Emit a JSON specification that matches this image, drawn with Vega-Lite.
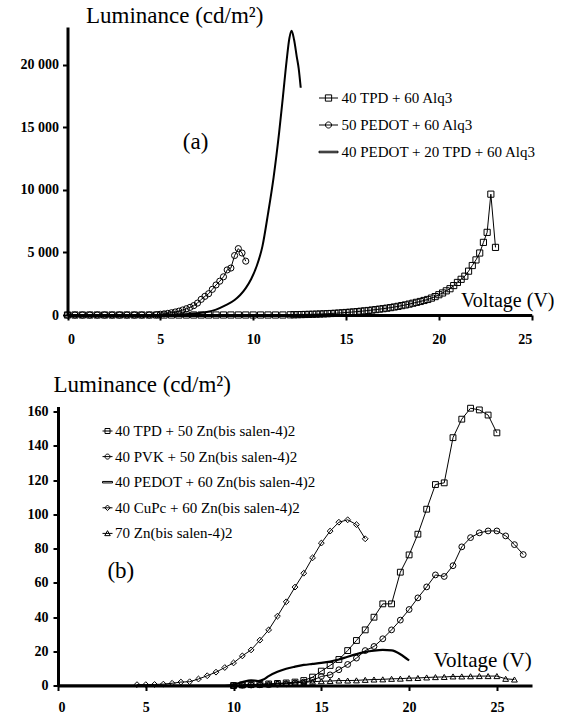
{
  "$schema": "https://vega.github.io/schema/vega-lite/v6.json",
  "padding": {"top": 4, "left": 0, "right": 0, "bottom": 0},
  "background": "white",
  "spacing": 27.5,
  "columns": 1,
  "align": "all",
  "center": false,
  "bounds": "full",
  "config": {
    "view": {"stroke": null},
    "axis": {
      "grid": false,
      "domainColor": "black",
      "domainWidth": 3,
      "tickColor": "black",
      "tickWidth": 2,
      "tickSize": 5,
      "labelFont": "Liberation Serif",
      "labelFontWeight": "bold",
      "labelFontSize": 14,
      "labelColor": "black",
      "labelOverlap": false,
      "titleFont": "Liberation Serif",
      "titleFontWeight": "normal",
      "titleColor": "black",
      "titleAngle": 0,
      "titleAlign": "left",
      "titleBaseline": "alphabetic"
    }
  },
  "datasets": {
    "a_pts": [
      {"series": "40 TPD + 60 Alq3", "V": 0, "L": 0},
      {"series": "40 TPD + 60 Alq3", "V": 0.4, "L": 0},
      {"series": "40 TPD + 60 Alq3", "V": 0.8, "L": 0},
      {"series": "40 TPD + 60 Alq3", "V": 1.2, "L": 0},
      {"series": "40 TPD + 60 Alq3", "V": 1.6, "L": 0},
      {"series": "40 TPD + 60 Alq3", "V": 2.0, "L": 0},
      {"series": "40 TPD + 60 Alq3", "V": 2.4, "L": 0},
      {"series": "40 TPD + 60 Alq3", "V": 2.8, "L": 0},
      {"series": "40 TPD + 60 Alq3", "V": 3.2, "L": 0},
      {"series": "40 TPD + 60 Alq3", "V": 3.6, "L": 0},
      {"series": "40 TPD + 60 Alq3", "V": 4.0, "L": 0},
      {"series": "40 TPD + 60 Alq3", "V": 4.4, "L": 0},
      {"series": "40 TPD + 60 Alq3", "V": 4.8, "L": 0},
      {"series": "40 TPD + 60 Alq3", "V": 5.2, "L": 0},
      {"series": "40 TPD + 60 Alq3", "V": 5.6, "L": 0},
      {"series": "40 TPD + 60 Alq3", "V": 6.0, "L": 0},
      {"series": "40 TPD + 60 Alq3", "V": 6.4, "L": 0},
      {"series": "40 TPD + 60 Alq3", "V": 6.8, "L": 0},
      {"series": "40 TPD + 60 Alq3", "V": 7.2, "L": 0},
      {"series": "40 TPD + 60 Alq3", "V": 7.6, "L": 0},
      {"series": "40 TPD + 60 Alq3", "V": 8.0, "L": 0},
      {"series": "40 TPD + 60 Alq3", "V": 8.4, "L": 0},
      {"series": "40 TPD + 60 Alq3", "V": 8.8, "L": 0},
      {"series": "40 TPD + 60 Alq3", "V": 9.2, "L": 0},
      {"series": "40 TPD + 60 Alq3", "V": 9.6, "L": 0},
      {"series": "40 TPD + 60 Alq3", "V": 10.0, "L": 0},
      {"series": "40 TPD + 60 Alq3", "V": 10.4, "L": 0},
      {"series": "40 TPD + 60 Alq3", "V": 10.8, "L": 0},
      {"series": "40 TPD + 60 Alq3", "V": 11.2, "L": 0},
      {"series": "40 TPD + 60 Alq3", "V": 11.6, "L": 0},
      {"series": "40 TPD + 60 Alq3", "V": 12.0, "L": 15},
      {"series": "40 TPD + 60 Alq3", "V": 12.2, "L": 20},
      {"series": "40 TPD + 60 Alq3", "V": 12.4, "L": 28},
      {"series": "40 TPD + 60 Alq3", "V": 12.6, "L": 35},
      {"series": "40 TPD + 60 Alq3", "V": 12.8, "L": 42},
      {"series": "40 TPD + 60 Alq3", "V": 13.0, "L": 50},
      {"series": "40 TPD + 60 Alq3", "V": 13.2, "L": 58},
      {"series": "40 TPD + 60 Alq3", "V": 13.4, "L": 68},
      {"series": "40 TPD + 60 Alq3", "V": 13.6, "L": 80},
      {"series": "40 TPD + 60 Alq3", "V": 13.8, "L": 92},
      {"series": "40 TPD + 60 Alq3", "V": 14.0, "L": 105},
      {"series": "40 TPD + 60 Alq3", "V": 14.2, "L": 120},
      {"series": "40 TPD + 60 Alq3", "V": 14.4, "L": 135},
      {"series": "40 TPD + 60 Alq3", "V": 14.6, "L": 155},
      {"series": "40 TPD + 60 Alq3", "V": 14.8, "L": 175},
      {"series": "40 TPD + 60 Alq3", "V": 15.0, "L": 200},
      {"series": "40 TPD + 60 Alq3", "V": 15.2, "L": 220},
      {"series": "40 TPD + 60 Alq3", "V": 15.4, "L": 245},
      {"series": "40 TPD + 60 Alq3", "V": 15.6, "L": 270},
      {"series": "40 TPD + 60 Alq3", "V": 15.8, "L": 300},
      {"series": "40 TPD + 60 Alq3", "V": 16.0, "L": 330},
      {"series": "40 TPD + 60 Alq3", "V": 16.2, "L": 360},
      {"series": "40 TPD + 60 Alq3", "V": 16.4, "L": 395},
      {"series": "40 TPD + 60 Alq3", "V": 16.6, "L": 430},
      {"series": "40 TPD + 60 Alq3", "V": 16.8, "L": 470},
      {"series": "40 TPD + 60 Alq3", "V": 17.0, "L": 505},
      {"series": "40 TPD + 60 Alq3", "V": 17.2, "L": 545},
      {"series": "40 TPD + 60 Alq3", "V": 17.4, "L": 590},
      {"series": "40 TPD + 60 Alq3", "V": 17.6, "L": 640},
      {"series": "40 TPD + 60 Alq3", "V": 17.8, "L": 690},
      {"series": "40 TPD + 60 Alq3", "V": 18.0, "L": 750},
      {"series": "40 TPD + 60 Alq3", "V": 18.2, "L": 805},
      {"series": "40 TPD + 60 Alq3", "V": 18.4, "L": 870},
      {"series": "40 TPD + 60 Alq3", "V": 18.6, "L": 940},
      {"series": "40 TPD + 60 Alq3", "V": 18.8, "L": 1010},
      {"series": "40 TPD + 60 Alq3", "V": 19.0, "L": 1080},
      {"series": "40 TPD + 60 Alq3", "V": 19.2, "L": 1160},
      {"series": "40 TPD + 60 Alq3", "V": 19.4, "L": 1240},
      {"series": "40 TPD + 60 Alq3", "V": 19.6, "L": 1350},
      {"series": "40 TPD + 60 Alq3", "V": 19.8, "L": 1470},
      {"series": "40 TPD + 60 Alq3", "V": 20.0, "L": 1620},
      {"series": "40 TPD + 60 Alq3", "V": 20.2, "L": 1760},
      {"series": "40 TPD + 60 Alq3", "V": 20.4, "L": 1930},
      {"series": "40 TPD + 60 Alq3", "V": 20.6, "L": 2100},
      {"series": "40 TPD + 60 Alq3", "V": 20.8, "L": 2350},
      {"series": "40 TPD + 60 Alq3", "V": 21.0, "L": 2600},
      {"series": "40 TPD + 60 Alq3", "V": 21.2, "L": 2850},
      {"series": "40 TPD + 60 Alq3", "V": 21.4, "L": 3100},
      {"series": "40 TPD + 60 Alq3", "V": 21.6, "L": 3500},
      {"series": "40 TPD + 60 Alq3", "V": 21.8, "L": 3950},
      {"series": "40 TPD + 60 Alq3", "V": 22.0, "L": 4400},
      {"series": "40 TPD + 60 Alq3", "V": 22.2, "L": 4950},
      {"series": "40 TPD + 60 Alq3", "V": 22.4, "L": 5800},
      {"series": "40 TPD + 60 Alq3", "V": 22.6, "L": 6600},
      {"series": "40 TPD + 60 Alq3", "V": 22.8, "L": 9650},
      {"series": "40 TPD + 60 Alq3", "V": 23.05, "L": 5400},
      {"series": "50 PEDOT + 60 Alq3", "V": 0, "L": 0},
      {"series": "50 PEDOT + 60 Alq3", "V": 0.4, "L": 0},
      {"series": "50 PEDOT + 60 Alq3", "V": 0.8, "L": 0},
      {"series": "50 PEDOT + 60 Alq3", "V": 1.2, "L": 0},
      {"series": "50 PEDOT + 60 Alq3", "V": 1.6, "L": 0},
      {"series": "50 PEDOT + 60 Alq3", "V": 2.0, "L": 0},
      {"series": "50 PEDOT + 60 Alq3", "V": 2.4, "L": 0},
      {"series": "50 PEDOT + 60 Alq3", "V": 2.8, "L": 0},
      {"series": "50 PEDOT + 60 Alq3", "V": 3.2, "L": 0},
      {"series": "50 PEDOT + 60 Alq3", "V": 3.6, "L": 0},
      {"series": "50 PEDOT + 60 Alq3", "V": 4.0, "L": 0},
      {"series": "50 PEDOT + 60 Alq3", "V": 4.4, "L": 0},
      {"series": "50 PEDOT + 60 Alq3", "V": 4.8, "L": 20},
      {"series": "50 PEDOT + 60 Alq3", "V": 5.0, "L": 60},
      {"series": "50 PEDOT + 60 Alq3", "V": 5.2, "L": 90},
      {"series": "50 PEDOT + 60 Alq3", "V": 5.4, "L": 130},
      {"series": "50 PEDOT + 60 Alq3", "V": 5.6, "L": 180},
      {"series": "50 PEDOT + 60 Alq3", "V": 5.8, "L": 240},
      {"series": "50 PEDOT + 60 Alq3", "V": 6.0, "L": 310},
      {"series": "50 PEDOT + 60 Alq3", "V": 6.2, "L": 400},
      {"series": "50 PEDOT + 60 Alq3", "V": 6.4, "L": 500},
      {"series": "50 PEDOT + 60 Alq3", "V": 6.6, "L": 610},
      {"series": "50 PEDOT + 60 Alq3", "V": 6.8, "L": 750},
      {"series": "50 PEDOT + 60 Alq3", "V": 7.0, "L": 950},
      {"series": "50 PEDOT + 60 Alq3", "V": 7.2, "L": 1250},
      {"series": "50 PEDOT + 60 Alq3", "V": 7.4, "L": 1490},
      {"series": "50 PEDOT + 60 Alq3", "V": 7.6, "L": 1700},
      {"series": "50 PEDOT + 60 Alq3", "V": 7.8, "L": 2050},
      {"series": "50 PEDOT + 60 Alq3", "V": 8.0, "L": 2400},
      {"series": "50 PEDOT + 60 Alq3", "V": 8.2, "L": 2700},
      {"series": "50 PEDOT + 60 Alq3", "V": 8.4, "L": 3050},
      {"series": "50 PEDOT + 60 Alq3", "V": 8.6, "L": 3600},
      {"series": "50 PEDOT + 60 Alq3", "V": 8.8, "L": 3750},
      {"series": "50 PEDOT + 60 Alq3", "V": 9.0, "L": 4750},
      {"series": "50 PEDOT + 60 Alq3", "V": 9.2, "L": 5300},
      {"series": "50 PEDOT + 60 Alq3", "V": 9.4, "L": 4950},
      {"series": "50 PEDOT + 60 Alq3", "V": 9.6, "L": 4300}
    ],
    "a_line": [
      {"series": "40 PEDOT + 20 TPD + 60 Alq3", "V": 0, "L": 0},
      {"series": "40 PEDOT + 20 TPD + 60 Alq3", "V": 5.0, "L": 0},
      {"series": "40 PEDOT + 20 TPD + 60 Alq3", "V": 5.5, "L": 15},
      {"series": "40 PEDOT + 20 TPD + 60 Alq3", "V": 6.0, "L": 40},
      {"series": "40 PEDOT + 20 TPD + 60 Alq3", "V": 6.5, "L": 80},
      {"series": "40 PEDOT + 20 TPD + 60 Alq3", "V": 7.0, "L": 140},
      {"series": "40 PEDOT + 20 TPD + 60 Alq3", "V": 7.5, "L": 240},
      {"series": "40 PEDOT + 20 TPD + 60 Alq3", "V": 8.0, "L": 430},
      {"series": "40 PEDOT + 20 TPD + 60 Alq3", "V": 8.5, "L": 760},
      {"series": "40 PEDOT + 20 TPD + 60 Alq3", "V": 9.0, "L": 1200},
      {"series": "40 PEDOT + 20 TPD + 60 Alq3", "V": 9.3, "L": 1600},
      {"series": "40 PEDOT + 20 TPD + 60 Alq3", "V": 9.6, "L": 2150},
      {"series": "40 PEDOT + 20 TPD + 60 Alq3", "V": 9.9, "L": 2900},
      {"series": "40 PEDOT + 20 TPD + 60 Alq3", "V": 10.2, "L": 3950},
      {"series": "40 PEDOT + 20 TPD + 60 Alq3", "V": 10.5, "L": 5500},
      {"series": "40 PEDOT + 20 TPD + 60 Alq3", "V": 10.8, "L": 8100},
      {"series": "40 PEDOT + 20 TPD + 60 Alq3", "V": 11.1, "L": 11000},
      {"series": "40 PEDOT + 20 TPD + 60 Alq3", "V": 11.4, "L": 14600},
      {"series": "40 PEDOT + 20 TPD + 60 Alq3", "V": 11.6, "L": 17400},
      {"series": "40 PEDOT + 20 TPD + 60 Alq3", "V": 11.8, "L": 20300},
      {"series": "40 PEDOT + 20 TPD + 60 Alq3", "V": 11.95, "L": 22100},
      {"series": "40 PEDOT + 20 TPD + 60 Alq3", "V": 12.07, "L": 22700},
      {"series": "40 PEDOT + 20 TPD + 60 Alq3", "V": 12.2, "L": 22000},
      {"series": "40 PEDOT + 20 TPD + 60 Alq3", "V": 12.35, "L": 20600},
      {"series": "40 PEDOT + 20 TPD + 60 Alq3", "V": 12.45, "L": 19700},
      {"series": "40 PEDOT + 20 TPD + 60 Alq3", "V": 12.56, "L": 18150}
    ],
    "a_leg": [
      {"series": "40 TPD + 60 Alq3"},
      {"series": "50 PEDOT + 60 Alq3"},
      {"series": "40 PEDOT + 20 TPD + 60 Alq3"}
    ],
    "b_pts": [
      {"series": "40 TPD + 50 Zn(bis salen-4)2", "V": 10.0, "L": 0},
      {"series": "40 TPD + 50 Zn(bis salen-4)2", "V": 10.5, "L": 0.3},
      {"series": "40 TPD + 50 Zn(bis salen-4)2", "V": 11.0, "L": 0.5},
      {"series": "40 TPD + 50 Zn(bis salen-4)2", "V": 11.5, "L": 0.7},
      {"series": "40 TPD + 50 Zn(bis salen-4)2", "V": 12.0, "L": 0.9},
      {"series": "40 TPD + 50 Zn(bis salen-4)2", "V": 12.5, "L": 1.2},
      {"series": "40 TPD + 50 Zn(bis salen-4)2", "V": 13.0, "L": 1.5},
      {"series": "40 TPD + 50 Zn(bis salen-4)2", "V": 13.5, "L": 2.0},
      {"series": "40 TPD + 50 Zn(bis salen-4)2", "V": 14.0, "L": 2.9},
      {"series": "40 TPD + 50 Zn(bis salen-4)2", "V": 14.5, "L": 4.9},
      {"series": "40 TPD + 50 Zn(bis salen-4)2", "V": 15.0, "L": 8.4},
      {"series": "40 TPD + 50 Zn(bis salen-4)2", "V": 15.5, "L": 11.7},
      {"series": "40 TPD + 50 Zn(bis salen-4)2", "V": 16.0, "L": 15.2},
      {"series": "40 TPD + 50 Zn(bis salen-4)2", "V": 16.5, "L": 20.4},
      {"series": "40 TPD + 50 Zn(bis salen-4)2", "V": 17.0, "L": 26.3},
      {"series": "40 TPD + 50 Zn(bis salen-4)2", "V": 17.5, "L": 32.5},
      {"series": "40 TPD + 50 Zn(bis salen-4)2", "V": 18.0, "L": 39.9},
      {"series": "40 TPD + 50 Zn(bis salen-4)2", "V": 18.5, "L": 47.7},
      {"series": "40 TPD + 50 Zn(bis salen-4)2", "V": 19.0, "L": 47.7},
      {"series": "40 TPD + 50 Zn(bis salen-4)2", "V": 19.5, "L": 66.2},
      {"series": "40 TPD + 50 Zn(bis salen-4)2", "V": 20.0, "L": 76.3},
      {"series": "40 TPD + 50 Zn(bis salen-4)2", "V": 20.5, "L": 88.4},
      {"series": "40 TPD + 50 Zn(bis salen-4)2", "V": 21.0, "L": 103},
      {"series": "40 TPD + 50 Zn(bis salen-4)2", "V": 21.5, "L": 117.4},
      {"series": "40 TPD + 50 Zn(bis salen-4)2", "V": 22.0, "L": 118.4},
      {"series": "40 TPD + 50 Zn(bis salen-4)2", "V": 22.5, "L": 144.8},
      {"series": "40 TPD + 50 Zn(bis salen-4)2", "V": 23.0, "L": 155.6},
      {"series": "40 TPD + 50 Zn(bis salen-4)2", "V": 23.5, "L": 162},
      {"series": "40 TPD + 50 Zn(bis salen-4)2", "V": 24.0, "L": 161},
      {"series": "40 TPD + 50 Zn(bis salen-4)2", "V": 24.5, "L": 158},
      {"series": "40 TPD + 50 Zn(bis salen-4)2", "V": 25.0, "L": 147.6},
      {"series": "40 PVK + 50 Zn(bis salen-4)2", "V": 10.0, "L": 0},
      {"series": "40 PVK + 50 Zn(bis salen-4)2", "V": 10.5, "L": 0.2},
      {"series": "40 PVK + 50 Zn(bis salen-4)2", "V": 11.0, "L": 0.3},
      {"series": "40 PVK + 50 Zn(bis salen-4)2", "V": 11.5, "L": 0.4},
      {"series": "40 PVK + 50 Zn(bis salen-4)2", "V": 12.0, "L": 0.5},
      {"series": "40 PVK + 50 Zn(bis salen-4)2", "V": 12.5, "L": 0.8},
      {"series": "40 PVK + 50 Zn(bis salen-4)2", "V": 13.0, "L": 1.0},
      {"series": "40 PVK + 50 Zn(bis salen-4)2", "V": 13.5, "L": 1.5},
      {"series": "40 PVK + 50 Zn(bis salen-4)2", "V": 14.0, "L": 2.0},
      {"series": "40 PVK + 50 Zn(bis salen-4)2", "V": 14.5, "L": 3.0},
      {"series": "40 PVK + 50 Zn(bis salen-4)2", "V": 15.0, "L": 5.3},
      {"series": "40 PVK + 50 Zn(bis salen-4)2", "V": 15.5, "L": 6.2},
      {"series": "40 PVK + 50 Zn(bis salen-4)2", "V": 16.0, "L": 9.2},
      {"series": "40 PVK + 50 Zn(bis salen-4)2", "V": 16.5, "L": 12.3},
      {"series": "40 PVK + 50 Zn(bis salen-4)2", "V": 17.0, "L": 16},
      {"series": "40 PVK + 50 Zn(bis salen-4)2", "V": 17.5, "L": 20.4},
      {"series": "40 PVK + 50 Zn(bis salen-4)2", "V": 18.0, "L": 22.8},
      {"series": "40 PVK + 50 Zn(bis salen-4)2", "V": 18.5, "L": 27.3},
      {"series": "40 PVK + 50 Zn(bis salen-4)2", "V": 19.0, "L": 32.5},
      {"series": "40 PVK + 50 Zn(bis salen-4)2", "V": 19.5, "L": 38.2},
      {"series": "40 PVK + 50 Zn(bis salen-4)2", "V": 20.0, "L": 44.4},
      {"series": "40 PVK + 50 Zn(bis salen-4)2", "V": 20.5, "L": 51.2},
      {"series": "40 PVK + 50 Zn(bis salen-4)2", "V": 21.0, "L": 57.6},
      {"series": "40 PVK + 50 Zn(bis salen-4)2", "V": 21.5, "L": 64.6},
      {"series": "40 PVK + 50 Zn(bis salen-4)2", "V": 22.0, "L": 63.7},
      {"series": "40 PVK + 50 Zn(bis salen-4)2", "V": 22.5, "L": 70},
      {"series": "40 PVK + 50 Zn(bis salen-4)2", "V": 23.0, "L": 81},
      {"series": "40 PVK + 50 Zn(bis salen-4)2", "V": 23.5, "L": 86.4},
      {"series": "40 PVK + 50 Zn(bis salen-4)2", "V": 24.0, "L": 89.2},
      {"series": "40 PVK + 50 Zn(bis salen-4)2", "V": 24.5, "L": 90.3},
      {"series": "40 PVK + 50 Zn(bis salen-4)2", "V": 25.0, "L": 90.3},
      {"series": "40 PVK + 50 Zn(bis salen-4)2", "V": 25.5, "L": 87.4},
      {"series": "40 PVK + 50 Zn(bis salen-4)2", "V": 26.0, "L": 82.3},
      {"series": "40 PVK + 50 Zn(bis salen-4)2", "V": 26.5, "L": 76.5},
      {"series": "40 CuPc + 60 Zn(bis salen-4)2", "V": 4.5, "L": 0.5},
      {"series": "40 CuPc + 60 Zn(bis salen-4)2", "V": 5.0, "L": 0.5},
      {"series": "40 CuPc + 60 Zn(bis salen-4)2", "V": 5.5, "L": 0.6},
      {"series": "40 CuPc + 60 Zn(bis salen-4)2", "V": 6.0, "L": 0.8},
      {"series": "40 CuPc + 60 Zn(bis salen-4)2", "V": 6.5, "L": 1.3},
      {"series": "40 CuPc + 60 Zn(bis salen-4)2", "V": 7.0, "L": 2.0},
      {"series": "40 CuPc + 60 Zn(bis salen-4)2", "V": 7.5, "L": 2.2},
      {"series": "40 CuPc + 60 Zn(bis salen-4)2", "V": 8.0, "L": 3.8},
      {"series": "40 CuPc + 60 Zn(bis salen-4)2", "V": 8.5, "L": 5.7},
      {"series": "40 CuPc + 60 Zn(bis salen-4)2", "V": 9.0, "L": 7.8},
      {"series": "40 CuPc + 60 Zn(bis salen-4)2", "V": 9.5, "L": 10.5},
      {"series": "40 CuPc + 60 Zn(bis salen-4)2", "V": 10.0, "L": 13.2},
      {"series": "40 CuPc + 60 Zn(bis salen-4)2", "V": 10.5, "L": 17.3},
      {"series": "40 CuPc + 60 Zn(bis salen-4)2", "V": 11.0, "L": 20.8},
      {"series": "40 CuPc + 60 Zn(bis salen-4)2", "V": 11.5, "L": 26.5},
      {"series": "40 CuPc + 60 Zn(bis salen-4)2", "V": 12.0, "L": 32.5},
      {"series": "40 CuPc + 60 Zn(bis salen-4)2", "V": 12.5, "L": 40.5},
      {"series": "40 CuPc + 60 Zn(bis salen-4)2", "V": 13.0, "L": 48.9},
      {"series": "40 CuPc + 60 Zn(bis salen-4)2", "V": 13.5, "L": 57.5},
      {"series": "40 CuPc + 60 Zn(bis salen-4)2", "V": 14.0, "L": 65.6},
      {"series": "40 CuPc + 60 Zn(bis salen-4)2", "V": 14.5, "L": 74.6},
      {"series": "40 CuPc + 60 Zn(bis salen-4)2", "V": 15.0, "L": 83.2},
      {"series": "40 CuPc + 60 Zn(bis salen-4)2", "V": 15.5, "L": 90.2},
      {"series": "40 CuPc + 60 Zn(bis salen-4)2", "V": 16.0, "L": 95.4},
      {"series": "40 CuPc + 60 Zn(bis salen-4)2", "V": 16.5, "L": 96.8},
      {"series": "40 CuPc + 60 Zn(bis salen-4)2", "V": 17.0, "L": 94},
      {"series": "40 CuPc + 60 Zn(bis salen-4)2", "V": 17.5, "L": 85.7},
      {"series": "70 Zn(bis salen-4)2", "V": 10.0, "L": 0},
      {"series": "70 Zn(bis salen-4)2", "V": 10.5, "L": 0.3},
      {"series": "70 Zn(bis salen-4)2", "V": 11.0, "L": 0.5},
      {"series": "70 Zn(bis salen-4)2", "V": 11.5, "L": 0.7},
      {"series": "70 Zn(bis salen-4)2", "V": 12.0, "L": 0.9},
      {"series": "70 Zn(bis salen-4)2", "V": 12.5, "L": 1.1},
      {"series": "70 Zn(bis salen-4)2", "V": 13.0, "L": 1.3},
      {"series": "70 Zn(bis salen-4)2", "V": 13.5, "L": 1.6},
      {"series": "70 Zn(bis salen-4)2", "V": 14.0, "L": 1.9},
      {"series": "70 Zn(bis salen-4)2", "V": 14.5, "L": 2.2},
      {"series": "70 Zn(bis salen-4)2", "V": 15.0, "L": 2.5},
      {"series": "70 Zn(bis salen-4)2", "V": 15.5, "L": 2.6},
      {"series": "70 Zn(bis salen-4)2", "V": 16.0, "L": 2.9},
      {"series": "70 Zn(bis salen-4)2", "V": 16.5, "L": 2.9},
      {"series": "70 Zn(bis salen-4)2", "V": 17.0, "L": 3.0},
      {"series": "70 Zn(bis salen-4)2", "V": 17.5, "L": 3.3},
      {"series": "70 Zn(bis salen-4)2", "V": 18.0, "L": 3.5},
      {"series": "70 Zn(bis salen-4)2", "V": 18.5, "L": 3.6},
      {"series": "70 Zn(bis salen-4)2", "V": 19.0, "L": 3.9},
      {"series": "70 Zn(bis salen-4)2", "V": 19.5, "L": 4.0},
      {"series": "70 Zn(bis salen-4)2", "V": 20.0, "L": 4.3},
      {"series": "70 Zn(bis salen-4)2", "V": 20.5, "L": 4.4},
      {"series": "70 Zn(bis salen-4)2", "V": 21.0, "L": 4.7},
      {"series": "70 Zn(bis salen-4)2", "V": 21.5, "L": 4.9},
      {"series": "70 Zn(bis salen-4)2", "V": 22.0, "L": 5.0},
      {"series": "70 Zn(bis salen-4)2", "V": 22.5, "L": 5.3},
      {"series": "70 Zn(bis salen-4)2", "V": 23.0, "L": 5.3},
      {"series": "70 Zn(bis salen-4)2", "V": 23.5, "L": 5.4},
      {"series": "70 Zn(bis salen-4)2", "V": 24.0, "L": 5.5},
      {"series": "70 Zn(bis salen-4)2", "V": 24.5, "L": 5.5},
      {"series": "70 Zn(bis salen-4)2", "V": 25.0, "L": 5.5},
      {"series": "70 Zn(bis salen-4)2", "V": 25.5, "L": 3.9},
      {"series": "70 Zn(bis salen-4)2", "V": 26.0, "L": 3.5}
    ],
    "b_line": [
      {"series": "40 PEDOT + 60 Zn(bis salen-4)2", "V": 0, "L": 0},
      {"series": "40 PEDOT + 60 Zn(bis salen-4)2", "V": 9.5, "L": 0},
      {"series": "40 PEDOT + 60 Zn(bis salen-4)2", "V": 10.0, "L": 0.5},
      {"series": "40 PEDOT + 60 Zn(bis salen-4)2", "V": 10.5, "L": 2.0},
      {"series": "40 PEDOT + 60 Zn(bis salen-4)2", "V": 11.0, "L": 3.0},
      {"series": "40 PEDOT + 60 Zn(bis salen-4)2", "V": 11.4, "L": 2.6},
      {"series": "40 PEDOT + 60 Zn(bis salen-4)2", "V": 11.7, "L": 3.5},
      {"series": "40 PEDOT + 60 Zn(bis salen-4)2", "V": 12.0, "L": 5.5},
      {"series": "40 PEDOT + 60 Zn(bis salen-4)2", "V": 12.5, "L": 8.0},
      {"series": "40 PEDOT + 60 Zn(bis salen-4)2", "V": 13.0, "L": 9.8},
      {"series": "40 PEDOT + 60 Zn(bis salen-4)2", "V": 13.5, "L": 11.0},
      {"series": "40 PEDOT + 60 Zn(bis salen-4)2", "V": 14.0, "L": 12.0},
      {"series": "40 PEDOT + 60 Zn(bis salen-4)2", "V": 14.5, "L": 12.6},
      {"series": "40 PEDOT + 60 Zn(bis salen-4)2", "V": 15.0, "L": 13.2},
      {"series": "40 PEDOT + 60 Zn(bis salen-4)2", "V": 15.5, "L": 14.0},
      {"series": "40 PEDOT + 60 Zn(bis salen-4)2", "V": 16.0, "L": 15.2},
      {"series": "40 PEDOT + 60 Zn(bis salen-4)2", "V": 16.5, "L": 16.8},
      {"series": "40 PEDOT + 60 Zn(bis salen-4)2", "V": 17.0, "L": 18.3},
      {"series": "40 PEDOT + 60 Zn(bis salen-4)2", "V": 17.5, "L": 19.6},
      {"series": "40 PEDOT + 60 Zn(bis salen-4)2", "V": 18.0, "L": 20.4},
      {"series": "40 PEDOT + 60 Zn(bis salen-4)2", "V": 18.5, "L": 20.8},
      {"series": "40 PEDOT + 60 Zn(bis salen-4)2", "V": 19.0, "L": 20.5},
      {"series": "40 PEDOT + 60 Zn(bis salen-4)2", "V": 19.5, "L": 18.3},
      {"series": "40 PEDOT + 60 Zn(bis salen-4)2", "V": 20.0, "L": 14.6}
    ],
    "b_leg": [
      {"series": "40 TPD + 50 Zn(bis salen-4)2"},
      {"series": "40 PVK + 50 Zn(bis salen-4)2"},
      {"series": "40 PEDOT + 60 Zn(bis salen-4)2"},
      {"series": "40 CuPc + 60 Zn(bis salen-4)2"},
      {"series": "70 Zn(bis salen-4)2"}
    ]
  },
  "concat": [
    {
      "width": 473.7,
      "height": 288,
      "resolve": {"scale": {"shape": "independent"}},
      "layer": [
        {
          "data": {"name": "a_pts"},
          "mark": {"type": "line", "color": "black", "strokeWidth": 1},
          "encoding": {
            "x": {"field": "V", "type": "quantitative", "scale": {"domain": [0, 25], "nice": false, "range": [9.5, 473.7]},
              "axis": {"values": [0, 5, 10, 15, 20, 25], "tickCount": 20, "labelPadding": 12, "title": "Voltage (V)", "titleFontSize": 20, "titleX": 402.5, "titleY": -9}},
            "y": {"field": "L", "type": "quantitative", "scale": {"domain": [0, 23000], "nice": false},
              "axis": {"values": [0, 5000, 10000, 15000, 20000], "tickCount": 20, "labelExpr": "replace(format(datum.value, ','), ',', ' ')", "labelPadding": 4, "offset": -9.5, "minExtent": 40, "title": "Luminance (cd/m²)", "titleFontSize": 23, "titleX": 18, "titleY": -5}},
            "detail": {"field": "series"}
          }
        },
        {
          "data": {"name": "a_pts"},
          "mark": {"type": "point", "filled": false, "color": "black", "strokeWidth": 1, "opacity": 1, "size": 38},
          "encoding": {
            "x": {"field": "V", "type": "quantitative"},
            "y": {"field": "L", "type": "quantitative"},
            "shape": {"field": "series", "type": "nominal", "scale": {"domain": ["40 TPD + 60 Alq3", "50 PEDOT + 60 Alq3"], "range": ["square", "circle"]}, "legend": null}
          }
        },
        {
          "data": {"name": "a_line"},
          "mark": {"type": "line", "color": "black", "strokeWidth": 2, "interpolate": "monotone"},
          "encoding": {
            "x": {"field": "V", "type": "quantitative"},
            "y": {"field": "L", "type": "quantitative"}
          }
        },
        {
          "data": {"name": "a_leg"},
          "mark": {"type": "point", "filled": false, "color": "black", "opacity": 0},
          "encoding": {
            "shape": {"field": "series", "type": "nominal",
              "scale": {"domain": ["40 TPD + 60 Alq3", "50 PEDOT + 60 Alq3", "40 PEDOT + 20 TPD + 60 Alq3"],
                "range": ["M-1,0H1M-0.33,-0.33H0.33V0.33H-0.33Z", "M-1,0H1M-0.32,0A0.32,0.32 0 1,1 0.32,0A0.32,0.32 0 1,1 -0.32,0Z", "M-1,-0.08H1V0.08H-1Z"]},
              "legend": {"orient": "none", "legendX": 260.5, "legendY": 61, "title": null, "padding": 0,
                "symbolSize": 361, "symbolStrokeWidth": 1, "symbolStrokeColor": "black", "symbolOpacity": 1,
                "labelFont": "Liberation Serif", "labelFontSize": 15, "labelColor": "black", "labelOffset": 3, "rowPadding": 9, "labelLimit": 400}}
          }
        },
        {
          "data": {"values": [{}]},
          "mark": {"type": "text", "font": "Liberation Serif", "fontSize": 23, "color": "black", "align": "center", "baseline": "middle"},
          "encoding": {
            "x": {"datum": 6.9, "type": "quantitative"},
            "y": {"datum": 13850, "type": "quantitative"},
            "text": {"value": "(a)"}
          }
        }
      ]
    },
    {
      "width": 474,
      "height": 279,
      "resolve": {"scale": {"shape": "independent"}},
      "layer": [
        {
          "data": {"name": "b_pts"},
          "mark": {"type": "line", "color": "black", "strokeWidth": 1},
          "encoding": {
            "x": {"field": "V", "type": "quantitative", "scale": {"domain": [0, 27], "nice": false},
              "axis": {"values": [0, 5, 10, 15, 20, 25], "tickCount": 20, "labelPadding": 10, "title": "Voltage (V)", "titleFontSize": 21, "titleX": 375, "titleY": -19}},
            "y": {"field": "L", "type": "quantitative", "scale": {"domain": [0, 163], "nice": false},
              "axis": {"values": [0, 20, 40, 60, 80, 100, 120, 140, 160], "tickCount": 20, "labelPadding": 5, "minExtent": 58, "title": "Luminance (cd/m²)", "titleFontSize": 23, "titleX": -5, "titleY": -15}},
            "detail": {"field": "series"}
          }
        },
        {
          "data": {"name": "b_pts"},
          "mark": {"type": "point", "filled": false, "color": "black", "strokeWidth": 1, "opacity": 1, "size": 34},
          "encoding": {
            "x": {"field": "V", "type": "quantitative"},
            "y": {"field": "L", "type": "quantitative"},
            "shape": {"field": "series", "type": "nominal", "scale": {"domain": ["40 TPD + 50 Zn(bis salen-4)2", "40 PVK + 50 Zn(bis salen-4)2", "40 CuPc + 60 Zn(bis salen-4)2", "70 Zn(bis salen-4)2"], "range": ["square", "circle", "diamond", "triangle-up"]}, "legend": null}
          }
        },
        {
          "data": {"name": "b_line"},
          "mark": {"type": "line", "color": "black", "strokeWidth": 2.2, "interpolate": "monotone"},
          "encoding": {
            "x": {"field": "V", "type": "quantitative"},
            "y": {"field": "L", "type": "quantitative"}
          }
        },
        {
          "data": {"name": "b_leg"},
          "mark": {"type": "point", "filled": false, "color": "black", "opacity": 0},
          "encoding": {
            "shape": {"field": "series", "type": "nominal",
              "scale": {"domain": ["40 TPD + 50 Zn(bis salen-4)2", "40 PVK + 50 Zn(bis salen-4)2", "40 PEDOT + 60 Zn(bis salen-4)2", "40 CuPc + 60 Zn(bis salen-4)2", "70 Zn(bis salen-4)2"],
                "range": ["M-1,0H1M-0.5,-0.5H0.5V0.5H-0.5Z", "M-1,0H1M-0.5,0A0.5,0.5 0 1,1 0.5,0A0.5,0.5 0 1,1 -0.5,0Z", "M-1,-0.15H1V0.15H-1Z", "M-1,0H1M0,-0.55L0.55,0L0,0.55L-0.55,0Z", "M-1,0H1M0,-0.55L0.55,0.45H-0.55Z"]},
              "legend": {"orient": "none", "legendX": 42, "legendY": 17, "title": null, "padding": 0,
                "symbolSize": 100, "symbolStrokeWidth": 1, "symbolStrokeColor": "black", "symbolOpacity": 1,
                "labelFont": "Liberation Serif", "labelFontSize": 15, "labelColor": "black", "labelOffset": 0, "rowPadding": 9.6, "labelLimit": 400}}
          }
        },
        {
          "data": {"values": [{}]},
          "mark": {"type": "text", "font": "Liberation Serif", "fontSize": 23, "color": "black", "align": "center", "baseline": "middle"},
          "encoding": {
            "x": {"datum": 3.58, "type": "quantitative"},
            "y": {"datum": 67, "type": "quantitative"},
            "text": {"value": "(b)"}
          }
        }
      ]
    }
  ]
}
